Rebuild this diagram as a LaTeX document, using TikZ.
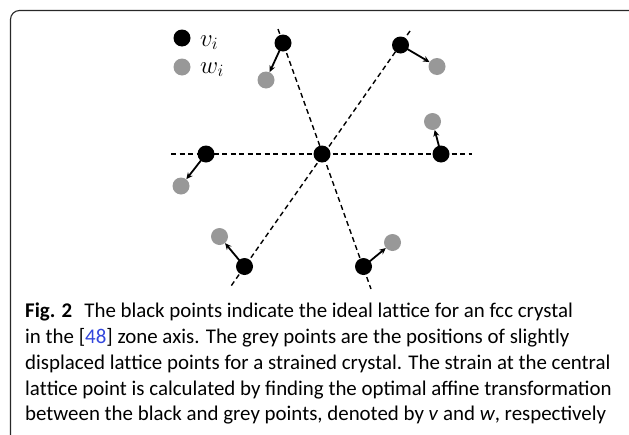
\documentclass[tikz,border=0pt]{standalone}
\usepackage{fontspec}
\setmainfont{Carlito}
\usetikzlibrary{arrows.meta,backgrounds}
\definecolor{ptgrey}{RGB}{152,152,152}
\definecolor{linkblue}{RGB}{50,70,220}
\definecolor{framegrey}{RGB}{40,40,40}
\tikzset{
  blackpt/.style={circle,fill=black,inner sep=0pt,minimum size=17pt},
  greypt/.style={circle,fill=ptgrey,inner sep=0pt,minimum size=17pt},
  dashline/.style={dash pattern=on 5pt off 3.5pt,line width=1.4pt},
  disp/.style={-{Stealth[length=6.5pt,width=6pt]},line width=1.8pt,shorten <=-1pt},
  capline/.style={anchor=base west,inner sep=0pt,font=\fontsize{20.9}{24}\selectfont},
  legendtxt/.style={anchor=base west,inner sep=0pt,font=\fontsize{24}{24}\selectfont}
}
\begin{document}
\begin{tikzpicture}[x=1pt,y=-1pt]
\useasboundingbox (0,0) rectangle (629,434);
\clip (0,0) rectangle (629,434);
% frame
\draw[framegrey,line width=1.1pt,rounded corners=9pt] (10.5,445) -- (10.5,10.5) -- (645,10.5);
% lattice points
\node[blackpt] (c) at (322,154) {};
\node[blackpt] (b1) at (283,43) {};
\node[greypt]  (g1) at (266,80) {};
\node[blackpt] (b2) at (400.5,45) {};
\node[greypt]  (g2) at (437,66.5) {};
\node[blackpt] (b3) at (206,154) {};
\node[greypt]  (g3) at (181,186) {};
\node[blackpt] (b4) at (441,154) {};
\node[greypt]  (g4) at (432.5,121.5) {};
\node[blackpt] (b5) at (244.5,266.5) {};
\node[greypt]  (g5) at (219.5,236.5) {};
\node[blackpt] (b6) at (363.5,266.5) {};
\node[greypt]  (g6) at (392.5,242.5) {};
% free ends of the dashed lines
\coordinate (hL) at (171,154);
\coordinate (hR) at (472,154);
\coordinate (aT) at (278,29);
\coordinate (aB) at (371,289);
\coordinate (bT) at (410,31);
\coordinate (bB) at (230,287.5);
\begin{pgfonlayer}{background}
  \draw[dashline] (hL) -- (hR);
  \draw[dashline] (aT) -- (aB);
  \draw[dashline] (bT) -- (bB);
\end{pgfonlayer}
% displacements
\draw[disp] (b1) -- (g1);
\draw[disp] (b2) -- (g2);
\draw[disp] (b3) -- (g3);
\draw[disp] (b4) -- (g4);
\draw[disp] (b5) -- (g5);
\draw[disp] (b6) -- (g6);
% legend
\node[blackpt] (lb) at (182,38) {};
\node[greypt]  (lg) at (182,67) {};
\node[legendtxt] (lv) at (200,46) {$v_i$};
\node[legendtxt] (lw) at (200,73) {$w_i$};
% caption
\node[capline] (t1) at (25,317) {\textbf{Fig. 2}\hspace{0.35em} The black points indicate the ideal lat\kern0pt tice for an fcc crystal};
\node[capline] (t2) at (25,343) {in the [{\color{linkblue}48}] zone axis. The grey points are the positions of slightly};
\node[capline] (t3) at (25,369) {displaced lat\kern0pt tice points for a strained crystal. The strain at the central};
\node[capline] (t4) at (25,395) {lat\kern0pt tice point is calculated by finding the optimal affine transformation};
\node[capline] (t5) at (25,420) {between the black and grey points, denoted by \textit{v} and \textit{w}, respectively};
\end{tikzpicture}
\end{document}
